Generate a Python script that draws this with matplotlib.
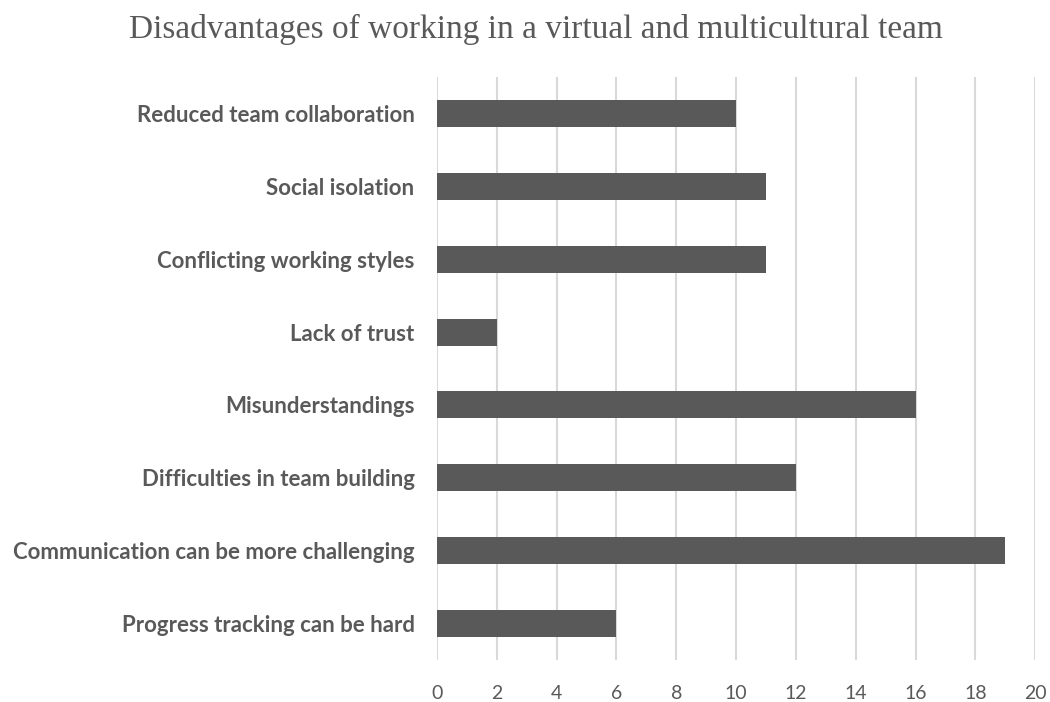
import matplotlib
matplotlib.use("Agg")
import matplotlib.pyplot as plt
import numpy as np

categories = ["Reduced team collaboration", "Social isolation", "Conflicting working styles",
              "Lack of trust", "Misunderstandings", "Difficulties in team building",
              "Communication can be more challenging", "Progress tracking can be hard"]
values = [10, 11, 11, 2, 16, 12, 19, 6]
xticks = list(range(0, 21, 2))

grey = "#595959"

fig = plt.figure(figsize=(10.5, 7.02), dpi=100)
ax = fig.add_axes([0.416, 0.060, 0.570, 0.830])

y = np.arange(len(categories))[::-1]
ax.barh(y, values, height=0.37, color=grey, zorder=3)

ax.set_xlim(0, 20)
ax.set_ylim(-0.5, len(categories) - 0.5)
ax.set_xticks(xticks)
ax.set_yticks(y)
ax.set_yticklabels(categories, fontfamily="Lato", fontweight="bold", fontsize=16, color=grey)
for lab in ax.get_xticklabels():
    lab.set_fontfamily("Lato")
    lab.set_fontsize(14)
    lab.set_color(grey)
ax.tick_params(axis="both", length=0)
ax.tick_params(axis="y", pad=16)
ax.tick_params(axis="x", pad=18)
ax.grid(axis="x", color="#d9d9d9", linewidth=1.5, zorder=0)
for s in ax.spines.values():
    s.set_visible(False)

fig.text(0.51, 0.958, "Disadvantages of working in a virtual and multicultural team",
         ha="center", va="center", fontfamily="Liberation Serif", fontsize=24, color=grey)

fig.savefig("out.png", dpi=100)
